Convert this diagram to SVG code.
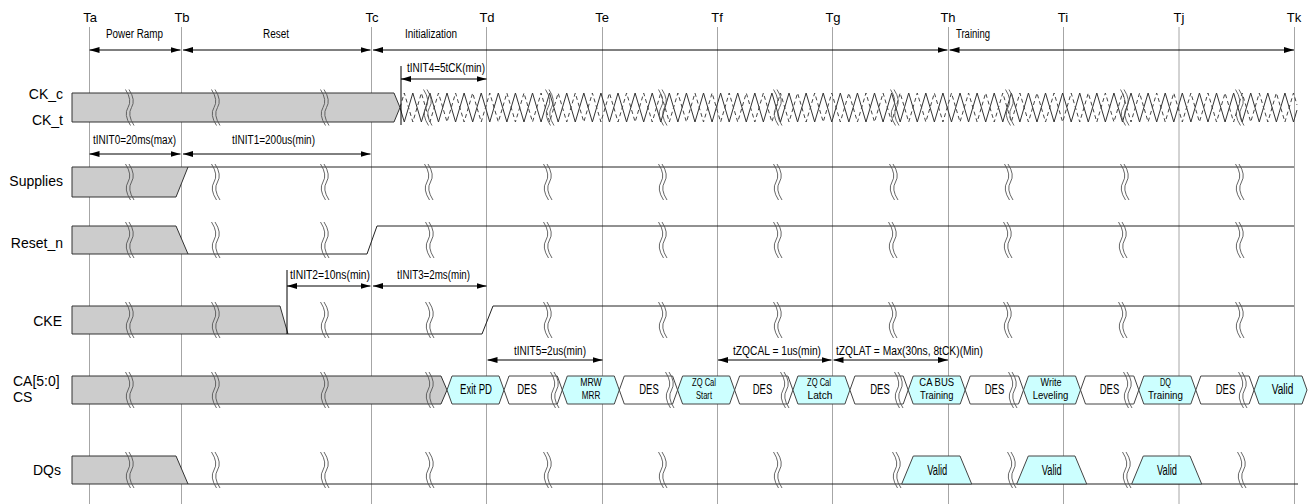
<svg xmlns="http://www.w3.org/2000/svg" width="1311" height="504" viewBox="0 0 1311 504">
<style>
text{font-family:"Liberation Sans",Arial,sans-serif;fill:#000}
.grid line{stroke:#a6a6a6;stroke-width:1}
.tl{font-size:13px;text-anchor:middle}
.sl{font-size:14px;text-anchor:end}
.sl2{font-size:14px}
.ann{font-size:12px}
.ph{font-size:12px}
.sig{fill:none;stroke:#222;stroke-width:1}
.box{fill:#cccccc;stroke:#333;stroke-width:1}
.cy{fill:#ccffff;stroke:#444;stroke-width:1}
.des{fill:#ffffff;stroke:#444;stroke-width:1}
.ct{font-size:14px;text-anchor:middle}
.ct2{font-size:11.5px;text-anchor:middle}
.brk{fill:none;stroke:#555;stroke-width:0.9}
.dim{stroke:#000;stroke-width:1;fill:none;marker-start:url(#ah);marker-end:url(#ah)}
.tick{stroke:#000;stroke-width:1}
.ck{fill:none;stroke:#333;stroke-width:1}
.ckd{fill:none;stroke:#444;stroke-width:1;stroke-dasharray:4 3}
</style>
<defs>
<marker id="ah" markerUnits="userSpaceOnUse" markerWidth="10" markerHeight="6" refX="10" refY="3" orient="auto-start-reverse">
<path d="M0,0 L10,3 L0,6 z" fill="#000"/>
</marker>
<path id="brk" class="brk" d="M-2.5,-18 Q4.5,-7.2 0,0 T2.5,18 M1,-18 Q8,-7.2 3.5,0 T6,18"/>
</defs>

<g id="grid" class="grid">
<line x1="89.5" y1="27" x2="89.5" y2="504"/>
<line x1="181.5" y1="27" x2="181.5" y2="504"/>
<line x1="371.5" y1="27" x2="371.5" y2="504"/>
<line x1="486.5" y1="27" x2="486.5" y2="504"/>
<line x1="602.5" y1="27" x2="602.5" y2="504"/>
<line x1="717.5" y1="27" x2="717.5" y2="504"/>
<line x1="832.5" y1="27" x2="832.5" y2="504"/>
<line x1="948.5" y1="27" x2="948.5" y2="504"/>
<line x1="1063.5" y1="27" x2="1063.5" y2="504"/>
<line x1="1179" y1="27" x2="1179" y2="504"/>
<line x1="1294.5" y1="27" x2="1294.5" y2="504"/>
</g>

<g id="time-labels">
<text class="tl" x="90" y="22">Ta</text>
<text class="tl" x="182" y="22">Tb</text>
<text class="tl" x="372" y="22">Tc</text>
<text class="tl" x="487" y="22">Td</text>
<text class="tl" x="602" y="22">Te</text>
<text class="tl" x="717" y="22">Tf</text>
<text class="tl" x="833" y="22">Tg</text>
<text class="tl" x="948" y="22">Th</text>
<text class="tl" x="1063" y="22">Ti</text>
<text class="tl" x="1179" y="22">Tj</text>
<text class="tl" x="1294" y="22">Tk</text>
</g>

<g id="phase-labels">
<text class="ph" x="106" y="38" textLength="57" lengthAdjust="spacingAndGlyphs">Power Ramp</text>
<text class="ph" x="263" y="38" textLength="26" lengthAdjust="spacingAndGlyphs">Reset</text>
<text class="ph" x="405" y="38" textLength="52" lengthAdjust="spacingAndGlyphs">Initialization</text>
<text class="ph" x="956" y="38" textLength="34" lengthAdjust="spacingAndGlyphs">Training</text>
</g>

<g id="signal-labels">
<text class="sl" x="63" y="99">CK_c</text>
<text class="sl" x="63" y="125">CK_t</text>
<text class="sl" x="63" y="186">Supplies</text>
<text class="sl" x="63" y="248">Reset_n</text>
<text class="sl" x="62" y="326">CKE</text>
<text class="sl2" x="13" y="386">CA[5:0]</text>
<text class="sl2" x="13" y="402">CS</text>
<text class="sl" x="61" y="475">DQs</text>
</g>

<g id="sig-ck">
<polygon class="box" points="72,93 394,93 400,107.5 394,122 72,122"/>
<path class="ck" d="M400,107.5 l4.275,14.5
l8.55,-29 l8.55,29 l8.55,-29 l8.55,29 l8.55,-29 l8.55,29 l8.55,-29 l8.55,29
l8.55,-29 l8.55,29 l8.55,-29 l8.55,29 l8.55,-29 l8.55,29 l8.55,-29 l8.55,29
l8.55,-29 l8.55,29 l8.55,-29 l8.55,29 l8.55,-29 l8.55,29 l8.55,-29 l8.55,29
l8.55,-29 l8.55,29 l8.55,-29 l8.55,29 l8.55,-29 l8.55,29 l8.55,-29 l8.55,29
l8.55,-29 l8.55,29 l8.55,-29 l8.55,29 l8.55,-29 l8.55,29 l8.55,-29 l8.55,29
l8.55,-29 l8.55,29 l8.55,-29 l8.55,29 l8.55,-29 l8.55,29 l8.55,-29 l8.55,29
l8.55,-29 l8.55,29 l8.55,-29 l8.55,29 l8.55,-29 l8.55,29 l8.55,-29 l8.55,29
l8.55,-29 l8.55,29 l8.55,-29 l8.55,29 l8.55,-29 l8.55,29 l8.55,-29 l8.55,29
l8.55,-29 l8.55,29 l8.55,-29 l8.55,29 l8.55,-29 l8.55,29 l8.55,-29 l8.55,29
l8.55,-29 l8.55,29 l8.55,-29 l8.55,29 l8.55,-29 l8.55,29 l8.55,-29 l8.55,29
l8.55,-29 l8.55,29 l8.55,-29 l8.55,29 l8.55,-29 l8.55,29 l8.55,-29 l8.55,29
l8.55,-29 l8.55,29 l8.55,-29 l8.55,29 l8.55,-29 l8.55,29 l8.55,-29 l8.55,29
l8.55,-29 l8.55,29 l8.55,-29 l8.55,29 l8.55,-29 l8.55,29 l8.55,-29 l8.55,29
l3.5,-11.9"/>
<path class="ckd" d="M400,107.5 l4.275,-14.5
l8.55,29 l8.55,-29 l8.55,29 l8.55,-29 l8.55,29 l8.55,-29 l8.55,29 l8.55,-29
l8.55,29 l8.55,-29 l8.55,29 l8.55,-29 l8.55,29 l8.55,-29 l8.55,29 l8.55,-29
l8.55,29 l8.55,-29 l8.55,29 l8.55,-29 l8.55,29 l8.55,-29 l8.55,29 l8.55,-29
l8.55,29 l8.55,-29 l8.55,29 l8.55,-29 l8.55,29 l8.55,-29 l8.55,29 l8.55,-29
l8.55,29 l8.55,-29 l8.55,29 l8.55,-29 l8.55,29 l8.55,-29 l8.55,29 l8.55,-29
l8.55,29 l8.55,-29 l8.55,29 l8.55,-29 l8.55,29 l8.55,-29 l8.55,29 l8.55,-29
l8.55,29 l8.55,-29 l8.55,29 l8.55,-29 l8.55,29 l8.55,-29 l8.55,29 l8.55,-29
l8.55,29 l8.55,-29 l8.55,29 l8.55,-29 l8.55,29 l8.55,-29 l8.55,29 l8.55,-29
l8.55,29 l8.55,-29 l8.55,29 l8.55,-29 l8.55,29 l8.55,-29 l8.55,29 l8.55,-29
l8.55,29 l8.55,-29 l8.55,29 l8.55,-29 l8.55,29 l8.55,-29 l8.55,29 l8.55,-29
l8.55,29 l8.55,-29 l8.55,29 l8.55,-29 l8.55,29 l8.55,-29 l8.55,29 l8.55,-29
l8.55,29 l8.55,-29 l8.55,29 l8.55,-29 l8.55,29 l8.55,-29 l8.55,29 l8.55,-29
l8.55,29 l8.55,-29 l8.55,29 l8.55,-29 l8.55,29 l8.55,-29 l8.55,29 l8.55,-29
l3.5,11.9"/>
<use href="#brk" x="128" y="107.5"/>
<use href="#brk" x="214" y="107.5"/>
<use href="#brk" x="323" y="107.5"/>
<use href="#brk" x="426" y="107.5"/>
<use href="#brk" x="548" y="107.5"/>
<use href="#brk" x="661" y="107.5"/>
<use href="#brk" x="776" y="107.5"/>
<use href="#brk" x="893" y="107.5"/>
<use href="#brk" x="1008" y="107.5"/>
<use href="#brk" x="1123" y="107.5"/>
<use href="#brk" x="1238" y="107.5"/>
</g>

<g id="sig-supplies">
<polygon class="box" points="72,167 188,167 176,197 72,197"/>
<path class="sig" d="M188,167 H1294"/>
<use href="#brk" x="128" y="182"/>
<use href="#brk" x="214" y="182"/>
<use href="#brk" x="323" y="182"/>
<use href="#brk" x="427" y="182"/>
<use href="#brk" x="546" y="182"/>
<use href="#brk" x="661" y="182"/>
<use href="#brk" x="776" y="182"/>
<use href="#brk" x="892" y="182"/>
<use href="#brk" x="1007" y="182"/>
<use href="#brk" x="1123" y="182"/>
<use href="#brk" x="1238" y="182"/>
</g>

<g id="sig-reset">
<polygon class="box" points="72,226 176,226 188,254 72,254"/>
<path class="sig" d="M188,254 H367 L377,226 H1294"/>
<use href="#brk" x="128" y="240"/>
<use href="#brk" x="214" y="240"/>
<use href="#brk" x="323" y="240"/>
<use href="#brk" x="428" y="240"/>
<use href="#brk" x="546" y="240"/>
<use href="#brk" x="661" y="240"/>
<use href="#brk" x="776" y="240"/>
<use href="#brk" x="891" y="240"/>
<use href="#brk" x="1006" y="240"/>
<use href="#brk" x="1121" y="240"/>
<use href="#brk" x="1238" y="240"/>
</g>

<g id="sig-cke">
<polygon class="box" points="72,306 280,306 288,334 72,334"/>
<path class="sig" d="M288,334 H482 L493,306 H1294"/>
<use href="#brk" x="128" y="320"/>
<use href="#brk" x="214" y="320"/>
<use href="#brk" x="323" y="320"/>
<use href="#brk" x="428" y="320"/>
<use href="#brk" x="546" y="320"/>
<use href="#brk" x="661" y="320"/>
<use href="#brk" x="776" y="320"/>
<use href="#brk" x="891" y="320"/>
<use href="#brk" x="1006" y="320"/>
<use href="#brk" x="1121" y="320"/>
<use href="#brk" x="1238" y="320"/>
</g>

<g id="sig-ca">
<polygon class="box" points="72,376 441,376 447,390 441,404 72,404"/>
<use href="#brk" x="128" y="390"/>
<use href="#brk" x="214" y="390"/>
<use href="#brk" x="323" y="390"/>
<use href="#brk" x="428" y="390"/>
</g>

<g id="cell-exit-pd">
<polygon class="cy" points="447,390 452,376 499,376 504,390 499,404 452,404"/>
<text class="ct" x="476" y="394" textLength="32" lengthAdjust="spacingAndGlyphs">Exit PD</text>
</g>
<g id="cell-des-1">
<polygon class="des" points="504,390 509,376 557.3,376 562.3,390 557.3,404 509,404"/>
<text class="ct" x="527" y="394" textLength="19.5" lengthAdjust="spacingAndGlyphs">DES</text>
<use href="#brk" x="553" y="390"/>
</g>
<g id="cell-mrw-mrr">
<polygon class="cy" points="562.3,390 567.3,376 614.3,376 619.3,390 614.3,404 567.3,404"/>
<text class="ct2" x="591" y="386" textLength="21.5" lengthAdjust="spacingAndGlyphs">MRW</text>
<text class="ct2" x="591" y="399" textLength="18.5" lengthAdjust="spacingAndGlyphs">MRR</text>
</g>
<g id="cell-des-2">
<polygon class="des" points="619.3,390 624.3,376 672.6,376 677.6,390 672.6,404 624.3,404"/>
<text class="ct" x="649" y="394" textLength="19.5" lengthAdjust="spacingAndGlyphs">DES</text>
<use href="#brk" x="668" y="390"/>
</g>
<g id="cell-zq-start">
<polygon class="cy" points="677.6,390 682.6,376 729.6,376 734.6,390 729.6,404 682.6,404"/>
<text class="ct2" x="704" y="386" textLength="24" lengthAdjust="spacingAndGlyphs">ZQ Cal</text>
<text class="ct2" x="704" y="399" textLength="16" lengthAdjust="spacingAndGlyphs">Start</text>
</g>
<g id="cell-des-3">
<polygon class="des" points="734.6,390 739.6,376 787.9,376 792.9,390 787.9,404 739.6,404"/>
<text class="ct" x="762.5" y="394" textLength="19.5" lengthAdjust="spacingAndGlyphs">DES</text>
<use href="#brk" x="783" y="390"/>
</g>
<g id="cell-zq-latch">
<polygon class="cy" points="792.9,390 797.9,376 844.9,376 849.9,390 844.9,404 797.9,404"/>
<text class="ct2" x="819" y="386" textLength="24" lengthAdjust="spacingAndGlyphs">ZQ Cal</text>
<text class="ct2" x="820" y="399" textLength="25" lengthAdjust="spacingAndGlyphs">Latch</text>
</g>
<g id="cell-des-4">
<polygon class="des" points="849.9,390 854.9,376 903.2,376 908.2,390 903.2,404 854.9,404"/>
<text class="ct" x="880" y="394" textLength="19.5" lengthAdjust="spacingAndGlyphs">DES</text>
<use href="#brk" x="897" y="390"/>
</g>
<g id="cell-ca-bus-training">
<polygon class="cy" points="908.2,390 913.2,376 960.2,376 965.2,390 960.2,404 913.2,404"/>
<text class="ct2" x="936.7" y="386" textLength="34.7" lengthAdjust="spacingAndGlyphs">CA BUS</text>
<text class="ct2" x="936.7" y="399" textLength="33.3" lengthAdjust="spacingAndGlyphs">Training</text>
</g>
<g id="cell-des-5">
<polygon class="des" points="965.2,390 970.2,376 1018.5,376 1023.5,390 1018.5,404 970.2,404"/>
<text class="ct" x="994.5" y="394" textLength="19.5" lengthAdjust="spacingAndGlyphs">DES</text>
<use href="#brk" x="1011" y="390"/>
</g>
<g id="cell-write-leveling">
<polygon class="cy" points="1023.5,390 1028.5,376 1075.5,376 1080.5,390 1075.5,404 1028.5,404"/>
<text class="ct2" x="1051" y="386" textLength="21" lengthAdjust="spacingAndGlyphs">Write</text>
<text class="ct2" x="1050.5" y="399" textLength="35.7" lengthAdjust="spacingAndGlyphs">Leveling</text>
</g>
<g id="cell-des-6">
<polygon class="des" points="1080.5,390 1085.5,376 1133.8,376 1138.8,390 1133.8,404 1085.5,404"/>
<text class="ct" x="1109.5" y="394" textLength="19.5" lengthAdjust="spacingAndGlyphs">DES</text>
<use href="#brk" x="1126" y="390"/>
</g>
<g id="cell-dq-training">
<polygon class="cy" points="1138.8,390 1143.8,376 1190.8,376 1195.8,390 1190.8,404 1143.8,404"/>
<text class="ct2" x="1165.5" y="386" textLength="11" lengthAdjust="spacingAndGlyphs">DQ</text>
<text class="ct2" x="1165.5" y="399" textLength="35" lengthAdjust="spacingAndGlyphs">Training</text>
</g>
<g id="cell-des-7">
<polygon class="des" points="1195.8,390 1200.8,376 1249.1,376 1254.1,390 1249.1,404 1200.8,404"/>
<text class="ct" x="1225.5" y="394" textLength="19.5" lengthAdjust="spacingAndGlyphs">DES</text>
<use href="#brk" x="1241" y="390"/>
</g>
<g id="cell-valid-ca">
<polygon class="cy" points="1254.1,390 1259.1,376 1302,376 1307,390 1302,404 1259.1,404"/>
<text class="ct" x="1282.5" y="394" textLength="21.7" lengthAdjust="spacingAndGlyphs">Valid</text>
</g>

<g id="sig-dqs">
<polygon class="box" points="72,456 176,456 188,484 72,484"/>
<path class="sig" d="M188,484 H1298"/>
<use href="#brk" x="128" y="470"/>
<use href="#brk" x="214" y="470"/>
<use href="#brk" x="323" y="470"/>
<use href="#brk" x="428" y="470"/>
<use href="#brk" x="546" y="470"/>
<use href="#brk" x="661" y="470"/>
<use href="#brk" x="776" y="470"/>
<use href="#brk" x="895" y="470"/>
<use href="#brk" x="1010" y="470"/>
<use href="#brk" x="1125" y="470"/>
<use href="#brk" x="1240" y="470"/>
</g>
<g id="dq-valid-1">
<polygon class="cy" points="901.7,484 913.3,456 960,456 971.7,484"/>
<text class="ct" x="937.3" y="475" textLength="20" lengthAdjust="spacingAndGlyphs">Valid</text>
</g>
<g id="dq-valid-2">
<polygon class="cy" points="1016.7,484 1028.3,456 1075,456 1086.7,484"/>
<text class="ct" x="1051.7" y="475" textLength="20" lengthAdjust="spacingAndGlyphs">Valid</text>
</g>
<g id="dq-valid-3">
<polygon class="cy" points="1131.7,484 1143.3,456 1190,456 1201.7,484"/>
<text class="ct" x="1167" y="475" textLength="20" lengthAdjust="spacingAndGlyphs">Valid</text>
</g>

<g id="connectors">
<line class="dim" x1="89.5" y1="50" x2="180.5" y2="50"/>
<line class="dim" x1="183" y1="50" x2="370.5" y2="50"/>
<line class="dim" x1="373" y1="50" x2="947.5" y2="50"/>
<line class="dim" x1="949.5" y1="50" x2="1294" y2="50"/>
<line class="dim" x1="89.5" y1="154" x2="180.5" y2="154"/>
<line class="dim" x1="183" y1="154" x2="370.5" y2="154"/>
<line class="tick" x1="401" y1="66" x2="401" y2="125"/>
<line class="dim" x1="401" y1="79" x2="486.5" y2="79"/>
<line class="tick" x1="287" y1="270" x2="287" y2="334"/>
<line class="dim" x1="287" y1="286" x2="370.5" y2="286"/>
<line class="dim" x1="373" y1="286" x2="486.5" y2="286"/>
<line class="dim" x1="487.5" y1="360" x2="602.5" y2="360"/>
<line class="dim" x1="718" y1="360" x2="831.5" y2="360"/>
<line class="dim" x1="833.5" y1="360" x2="948" y2="360"/>
</g>

<g id="dimension-labels">
<text class="ann" x="93" y="144" textLength="83" lengthAdjust="spacingAndGlyphs">tINIT0=20ms(max)</text>
<text class="ann" x="232" y="144" textLength="83" lengthAdjust="spacingAndGlyphs">tINIT1=200us(min)</text>
<text class="ann" x="407" y="72" textLength="78" lengthAdjust="spacingAndGlyphs">tINIT4=5tCK(min)</text>
<text class="ann" x="290" y="279" textLength="80" lengthAdjust="spacingAndGlyphs">tINIT2=10ns(min)</text>
<text class="ann" x="397" y="279" textLength="73" lengthAdjust="spacingAndGlyphs">tINIT3=2ms(min)</text>
<text class="ann" x="514" y="355" textLength="72" lengthAdjust="spacingAndGlyphs">tINIT5=2us(min)</text>
<text class="ann" x="733" y="355" textLength="88" lengthAdjust="spacingAndGlyphs">tZQCAL = 1us(min)</text>
<text class="ann" x="836" y="355" textLength="147" lengthAdjust="spacingAndGlyphs">tZQLAT = Max(30ns, 8tCK)(Min)</text>
</g>
</svg>
